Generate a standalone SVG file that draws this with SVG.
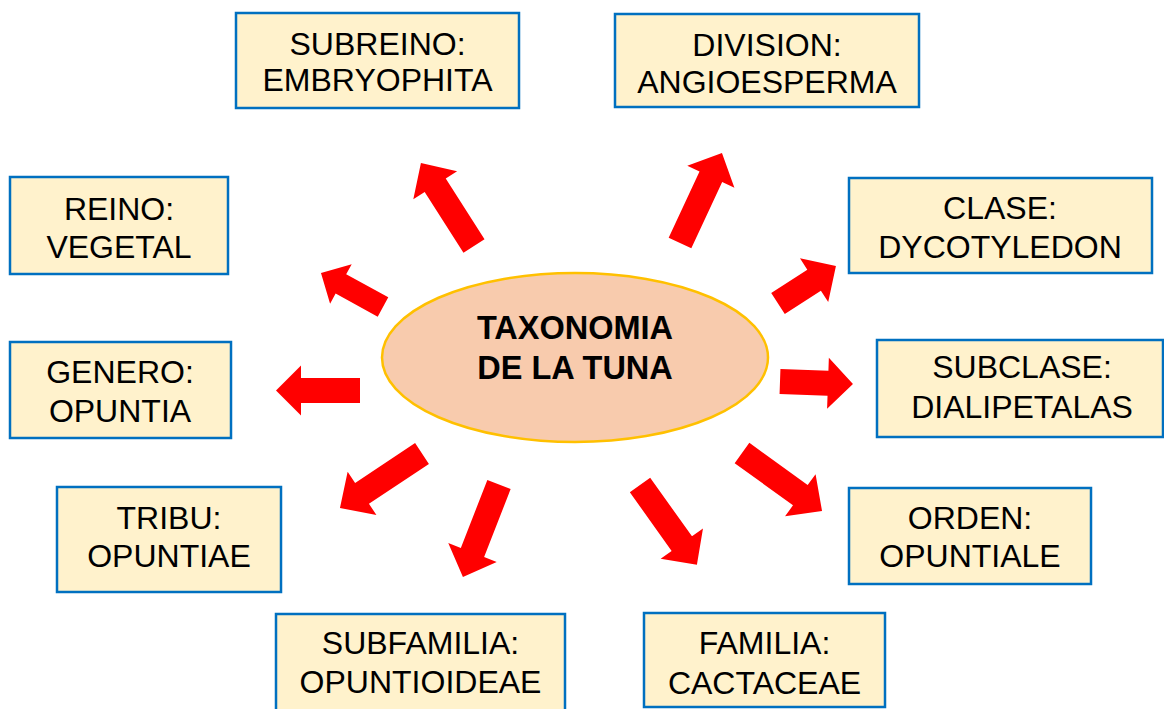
<svg xmlns="http://www.w3.org/2000/svg" width="1164" height="709" viewBox="0 0 1164 709">
<style>
.box{fill:#FFF2CC;stroke:#0070C0;stroke-width:2.5}
.t{font-family:"Liberation Sans",Arial,sans-serif;font-size:32px;fill:#000;text-anchor:middle}
.tb{font-family:"Liberation Sans",Arial,sans-serif;font-size:32.5px;font-weight:bold;fill:#000;text-anchor:middle}
.arr{fill:#FF0000}
</style>
<rect width="1164" height="709" fill="#fff"/>
<g id="connectors">
<polygon class="arr" transform="translate(474,246) rotate(-122.6)" points="0,-12.5 72,-12.5 72,-26 98.5,0 72,26 72,12.5 0,12.5"/>
<polygon class="arr" transform="translate(383,307) rotate(-151.3)" points="0,-11 48,-11 48,-22.5 70.7,0 48,22.5 48,11 0,11"/>
<polygon class="arr" transform="translate(680,243) rotate(-65)" points="0,-12.5 73,-12.5 73,-26 99.3,0 73,26 73,12.5 0,12.5"/>
<polygon class="arr" transform="translate(778,303.5) rotate(-32.9)" points="0,-12.5 43,-12.5 43,-26 69,0 43,26 43,12.5 0,12.5"/>
<polygon class="arr" transform="translate(360,390.5) rotate(180)" points="0,-12.5 59,-12.5 59,-25 84,0 59,25 59,12.5 0,12.5"/>
<polygon class="arr" transform="translate(422,453.5) rotate(146.4)" points="0,-12.5 72,-12.5 72,-26 98.5,0 72,26 72,12.5 0,12.5"/>
<polygon class="arr" transform="translate(499,484.5) rotate(111.3)" points="0,-12.5 73,-12.5 73,-26 99.3,0 73,26 73,12.5 0,12.5"/>
<polygon class="arr" transform="translate(640,485) rotate(54.5)" points="0,-12.5 72,-12.5 72,-26 98,0 72,26 72,12.5 0,12.5"/>
<polygon class="arr" transform="translate(742,453) rotate(35.9)" points="0,-12.5 72,-12.5 72,-26 98.8,0 72,26 72,12.5 0,12.5"/>
<polygon class="arr" transform="translate(780,381.5) rotate(2)" points="0,-12.5 48,-12.5 48,-25.5 73,0 48,25.5 48,12.5 0,12.5"/>
</g>
<g id="center">
<ellipse cx="575" cy="357.5" rx="193" ry="84.5" fill="#F8CBAD" stroke="#FFC000" stroke-width="2.5"/>
<text class="tb" x="575" y="339">TAXONOMIA</text>
<text class="tb" x="575" y="379">DE LA TUNA</text>
</g>
<g id="subreino">
<rect class="box" x="236" y="13" width="283" height="95"/>
<text class="t" x="377.5" y="55">SUBREINO:</text>
<text class="t" x="377.5" y="91">EMBRYOPHITA</text>
</g>
<g id="division">
<rect class="box" x="615" y="14" width="304" height="93"/>
<text class="t" x="767" y="56">DIVISION:</text>
<text class="t" x="767" y="93">ANGIOESPERMA</text>
</g>
<g id="reino">
<rect class="box" x="10" y="177" width="218" height="97"/>
<text class="t" x="119" y="220">REINO:</text>
<text class="t" x="119" y="258">VEGETAL</text>
</g>
<g id="clase">
<rect class="box" x="849" y="178" width="303" height="95"/>
<text class="t" x="1000" y="219">CLASE:</text>
<text class="t" x="1000" y="258">DYCOTYLEDON</text>
</g>
<g id="genero">
<rect class="box" x="10" y="342" width="221" height="96"/>
<text class="t" x="120" y="383">GENERO:</text>
<text class="t" x="120" y="422">OPUNTIA</text>
</g>
<g id="subclase">
<rect class="box" x="877" y="340" width="286" height="97"/>
<text class="t" x="1022" y="378">SUBCLASE:</text>
<text class="t" x="1022" y="418">DIALIPETALAS</text>
</g>
<g id="tribu">
<rect class="box" x="57" y="487" width="224" height="105"/>
<text class="t" x="169" y="529">TRIBU:</text>
<text class="t" x="169" y="567">OPUNTIAE</text>
</g>
<g id="orden">
<rect class="box" x="849" y="488" width="242" height="96"/>
<text class="t" x="970" y="529">ORDEN:</text>
<text class="t" x="970" y="567">OPUNTIALE</text>
</g>
<g id="subfamilia">
<rect class="box" x="276" y="614" width="289" height="100"/>
<text class="t" x="420.5" y="654">SUBFAMILIA:</text>
<text class="t" x="420.5" y="693">OPUNTIOIDEAE</text>
</g>
<g id="familia">
<rect class="box" x="644" y="613" width="241" height="94"/>
<text class="t" x="764.5" y="654">FAMILIA:</text>
<text class="t" x="764.5" y="694">CACTACEAE</text>
</g>
</svg>
